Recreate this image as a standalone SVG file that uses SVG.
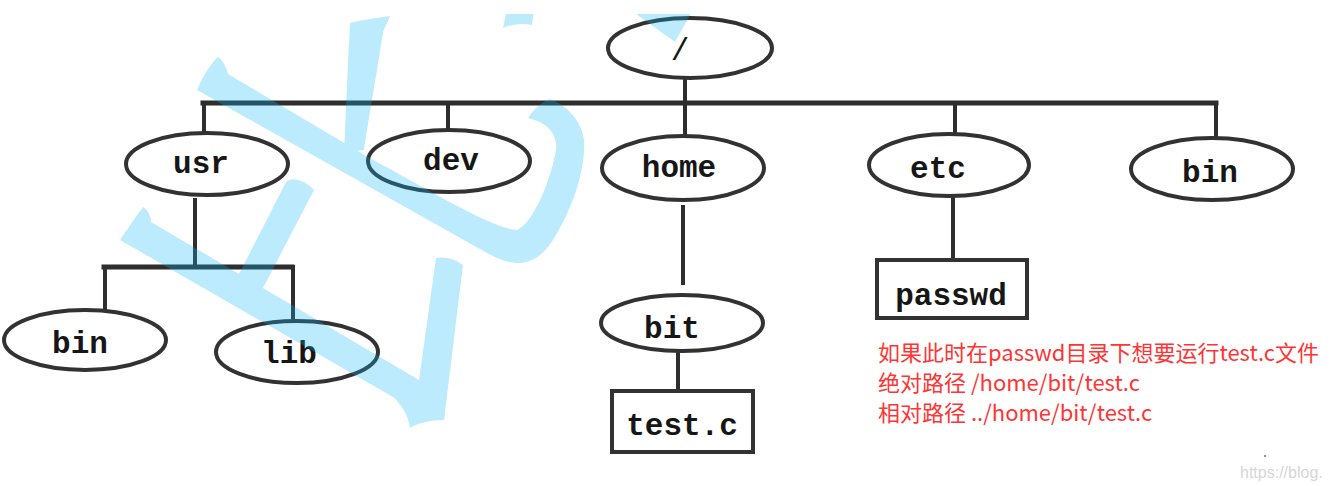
<svg xmlns="http://www.w3.org/2000/svg" width="1338" height="486" viewBox="0 0 1338 486">
  <defs>
    <filter id="scan" filterUnits="userSpaceOnUse" x="0" y="0" width="1338" height="486">
      <feGaussianBlur stdDeviation="0.7"/>
    </filter>
    <clipPath id="clipTop">
      <rect x="0" y="14" width="1338" height="472"/>
    </clipPath>
  </defs>
  <style>
    .node ellipse, .node rect { fill: #ffffff; stroke: #333333; stroke-width: 4; filter: url(#scan); }
    .node text { font-family: "Liberation Mono", "DejaVu Sans Mono", monospace; font-weight: bold; font-size: 31px; fill: #161616; text-anchor: middle; }
    #connectors line { stroke: #2e2e2e; stroke-width: 4; stroke-linecap: square; filter: url(#scan); }
    .note { font-family: "Noto Sans CJK SC", "Noto Sans", sans-serif; font-size: 22px; fill: #ff3434; }
    .wm { font-family: "Liberation Sans", Arial, sans-serif; font-size: 16px; fill: #d6d6d6; }
  </style>
  <rect x="0" y="0" width="1338" height="486" fill="#ffffff"/>

  <g id="connectors">
    <line x1="685" y1="78" x2="685" y2="103"/>
    <line x1="203" y1="103" x2="1216" y2="103" style="stroke-width:5"/>
    <line x1="204" y1="103" x2="204" y2="133"/>
    <line x1="448" y1="103" x2="448" y2="130"/>
    <line x1="685" y1="103" x2="685" y2="136"/>
    <line x1="955" y1="103" x2="955" y2="134"/>
    <line x1="1216" y1="103" x2="1216" y2="138"/>
    <line x1="195" y1="200" x2="195" y2="267"/>
    <line x1="104" y1="267" x2="292" y2="267" style="stroke-width:5"/>
    <line x1="105" y1="267" x2="105" y2="309"/>
    <line x1="293" y1="267" x2="293" y2="321"/>
    <line x1="683" y1="207" x2="683" y2="283"/>
    <line x1="678" y1="351" x2="678" y2="391"/>
    <line x1="953" y1="197" x2="953" y2="260"/>
  </g>

  <g id="node-root" class="node">
    <ellipse cx="690" cy="48" rx="82" ry="30"/>
    <text x="680" y="60" style="font-weight:normal">/</text>
  </g>
  <g id="node-usr" class="node">
    <ellipse cx="207" cy="164" rx="81" ry="31"/>
    <text x="201" y="173">usr</text>
  </g>
  <g id="node-dev" class="node">
    <ellipse cx="449" cy="161" rx="81" ry="31"/>
    <text x="451" y="170">dev</text>
  </g>
  <g id="node-home" class="node">
    <ellipse cx="683" cy="168" rx="81" ry="32"/>
    <text x="679" y="177">home</text>
  </g>
  <g id="node-etc" class="node">
    <ellipse cx="949" cy="165" rx="80" ry="31"/>
    <text x="938" y="178">etc</text>
  </g>
  <g id="node-bin-top" class="node">
    <ellipse cx="1212" cy="169" rx="81" ry="31"/>
    <text x="1210" y="182">bin</text>
  </g>
  <g id="node-bin" class="node">
    <ellipse cx="85" cy="340" rx="81" ry="30"/>
    <text x="80" y="353">bin</text>
  </g>
  <g id="node-lib" class="node">
    <ellipse cx="297" cy="352" rx="81" ry="31"/>
    <text x="289" y="363">lib</text>
  </g>
  <g id="node-bit" class="node">
    <ellipse cx="682" cy="323" rx="81" ry="28"/>
    <text x="672" y="338">bit</text>
  </g>
  <g id="node-testc" class="node">
    <rect x="612" y="391" width="141" height="61"/>
    <text x="682" y="435">test.c</text>
  </g>
  <g id="node-passwd" class="node">
    <rect x="877" y="260" width="150" height="58"/>
    <text x="951" y="305">passwd</text>
  </g>

  <g id="note">
    <text class="note" x="878" y="361">如果此时在passwd目录下想要运行test.c文件</text>
    <text class="note" x="878" y="391">绝对路径 /home/bit/test.c</text>
    <text class="note" x="878" y="421">相对路径 ../home/bit/test.c</text>
  </g>

  <g id="watermark" clip-path="url(#clipTop)" fill="#0bb9f8" opacity="0.27">
    <path d="M 197,90 C 203,76 211,63 218,57 C 222,59 226,66 228,74 L 373,160 C 430,190 490,228 517,230 C 535,222 552,175 556,150 C 558,132 545,122 528,118 C 535,108 543,101 550,99 C 568,106 582,122 584,140 C 586,170 572,210 553,240 C 543,256 530,264 516,263 C 505,262 496,258 487,253 Z"/>
    <path d="M 350,23 C 360,20 378,18 390,16 C 388,22 385,26 383,32 C 379,60 370,110 364,150 L 344,152 C 346,110 348,60 350,23 Z"/>
    <path d="M 507,8 L 534,8 L 532,25 Q 517,22 503,28 Z"/>
    <path d="M 628,8 L 694,8 L 675,42 Z"/>
    <path d="M 286,182 C 292,176 305,180 314,190 L 262,290 L 238,276 Z"/>
    <path d="M 120,240 C 128,228 137,215 143,207 C 148,210 151,216 151,222 L 419,380 L 436,258 C 445,256 455,259 463,265 L 444,420 C 430,420 418,423 410,428 C 408,415 402,405 393,397 Z"/>
  </g>

  <g id="footer">
    <rect x="1264" y="455" width="2" height="2" fill="#9a9a9a"/>
    <text class="wm" x="1240" y="478">https://blog.</text>
  </g>
</svg>
